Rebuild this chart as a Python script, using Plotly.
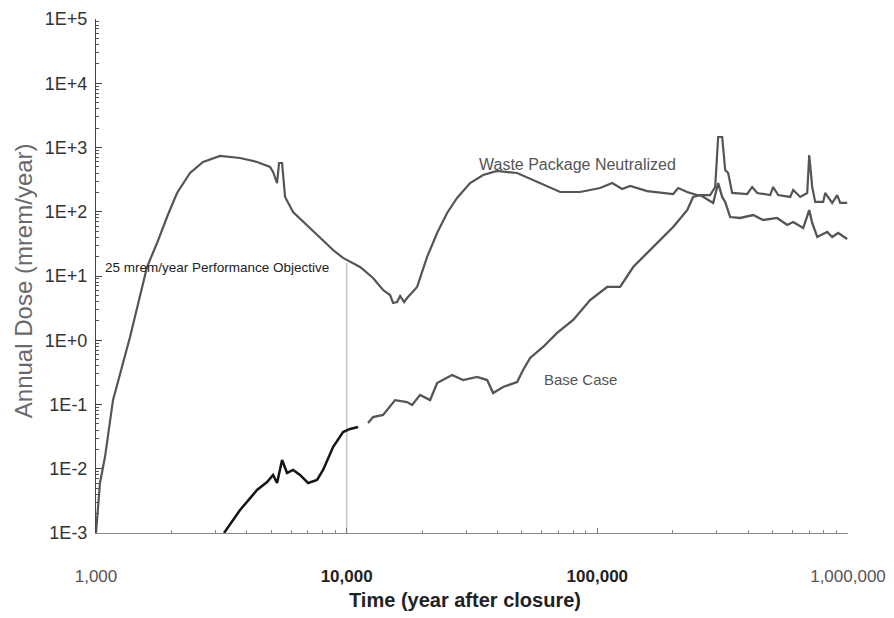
import plotly.graph_objects as go

# ---- data (time in years, dose in mrem/year) ----
wp_time = [1000, 1037, 1086, 1137, 1169, 1367, 1498, 1598, 1752, 1920, 2105, 2372, 2673, 3125,
           3755, 4390, 4948, 5086, 5276, 5374, 5524, 5679, 6112, 6950, 7831, 8826, 9674, 11310,
           12745, 13975, 14900, 15320, 15890, 16340, 16950, 17420, 19100, 20940, 22950, 25160,
           27570, 31080, 35030, 39830, 47860, 59110, 71070, 85390, 102600, 114600, 125600,
           135200, 158000, 200700, 210100, 228200, 250100, 281900, 295200, 303400, 314800,
           323600, 332600, 345100, 396100, 414700, 434300, 489300, 502900, 526600, 588000,
           604400, 644700, 687500, 700300, 719800, 739900, 796200, 811000, 864800, 905700,
           930900, 992700]
wp_dose = [0.001, 0.0060, 0.0152, 0.0515, 0.117, 1.12, 4.71, 13.8, 32.6, 82.8, 196, 401, 595, 738,
           687, 595, 497, 416, 280, 574, 574, 170, 99, 62.2, 39.0, 25.4, 19.1, 13.8,
           9.31, 6.05, 5.06, 3.80, 3.94, 4.89, 3.94, 4.55, 6.75, 19.8, 46.7, 95.7,
           164, 280, 373, 431, 401, 280, 203, 203, 234, 280, 226,
           252, 210, 189, 234, 203, 182, 182, 243, 1456, 1456,
           447, 401, 196, 189, 243, 196, 182, 243, 182, 170,
           218, 170, 196, 764, 243, 142, 142, 196, 137, 182,
           137, 137]

bc_early_time = [3242, 3755, 4390, 4813, 5086, 5276, 5524, 5783, 6112, 6516, 7015, 7618, 8051,
                 8826, 9674, 10320, 11110]
bc_early_dose = [0.001, 0.00228, 0.00467, 0.00622, 0.0080, 0.0060, 0.0137, 0.0086, 0.0096,
                 0.0080, 0.0060, 0.00668, 0.0096, 0.0218, 0.0373, 0.0416, 0.0447]

bc_late_time = [12170, 12745, 13975, 15600, 17420, 18240, 19630, 21520, 22950, 26340, 29140,
                33140, 36340, 38390, 42090, 47860, 50570, 53930, 60760, 69130, 80100, 93610,
                109400, 123300, 139000, 167000, 200700, 228200, 241100, 257200, 289800, 303400,
                314800, 323600, 338800, 371300, 418500, 458700, 521800, 572100, 604400, 662500,
                700300, 719800, 753900, 826000, 864800, 913900, 992700]
bc_late_dose = [0.0515, 0.0638, 0.0687, 0.117, 0.109, 0.0982, 0.141, 0.117, 0.216, 0.288, 0.240,
                0.268, 0.240, 0.151, 0.187, 0.224, 0.344, 0.530, 0.785, 1.30, 2.07, 4.23,
                6.75, 6.75, 13.8, 28.3, 57.9, 106, 170, 182, 137, 280,
                170, 142, 82.8, 80.0, 88.9, 74.4, 80.0, 62.2, 69.2, 55.8,
                106, 66.8, 40.5, 48.4, 40.5, 46.7, 37.7]

reg_time = [10000, 10000]      # 10,000-year regulatory period marker
reg_dose = [16, 0.001]

x_tickvals = [1000, 10000, 100000, 1000000]
x_ticktext = ["<span style='color:#555'>1,000</span>", "<b>10,000</b>", "<b>100,000</b>",
              "<span style='color:#555'>1,000,000</span>"]
y_tickvals = [1e-3, 1e-2, 1e-1, 1e0, 1e1, 1e2, 1e3, 1e4, 1e5]
y_ticktext = ["1E-3", "1E-2", "1E-1", "1E+0", "1E+1", "1E+2", "1E+3", "1E+4", "1E+5"]

FONT = "Liberation Sans, Arial, sans-serif"

fig = go.Figure()
fig.add_trace(go.Scatter(x=reg_time, y=reg_dose, mode="lines",
                         line=dict(color="#c4c4c4", width=1.5), hoverinfo="skip"))
fig.add_trace(go.Scatter(x=wp_time, y=wp_dose, mode="lines", name="Waste Package Neutralized",
                         line=dict(color="#555555", width=2.2)))
fig.add_trace(go.Scatter(x=bc_early_time, y=bc_early_dose, mode="lines", name="Base Case",
                         line=dict(color="#151515", width=2.5)))
fig.add_trace(go.Scatter(x=bc_late_time, y=bc_late_dose, mode="lines", name="Base Case",
                         line=dict(color="#555555", width=2.3)))

# the page body has an 8px margin, so the figure is sized/offset to compensate
fig.update_layout(
    width=886, height=610,
    margin=dict(l=88, r=46, t=11, b=85, autoexpand=False),
    paper_bgcolor="white", plot_bgcolor="white",
    showlegend=False,
    font=dict(family=FONT, color="#333333"),
)
fig.update_xaxes(
    type="log", range=[3, 6], tickvals=x_tickvals, ticktext=x_ticktext, automargin=False,
    showgrid=False, zeroline=False, showline=True, linecolor="#888888", linewidth=1,
    ticks="inside", ticklen=5, tickcolor="#777777",
    minor=dict(ticks="inside", ticklen=3, tickcolor="#888888", dtick="D1", showgrid=False),
    tickfont=dict(size=17, color="#222222", family=FONT), ticklabelstandoff=28,
)
fig.update_yaxes(
    type="log", range=[-3, 5], tickvals=y_tickvals, ticktext=y_ticktext, automargin=False,
    showgrid=False, zeroline=False, showline=True, linecolor="#444444", linewidth=1,
    ticks="inside", ticklen=6, tickcolor="#444444",
    minor=dict(ticks="inside", ticklen=3, tickcolor="#555555", dtick="D1", showgrid=False),
    tickfont=dict(size=18, color="#333333", family=FONT), ticklabelstandoff=4,
)

fig.add_annotation(xref="paper", yref="paper", x=-0.097, y=0.49, textangle=-90,
                   text="Annual Dose (mrem/year)", showarrow=False,
                   xanchor="center", yanchor="middle",
                   font=dict(size=24, color="#6a6a6a", family=FONT))
fig.add_annotation(xref="paper", yref="paper", x=0.491, y=-0.13,
                   text="<b>Time (year after closure)</b>", showarrow=False,
                   xanchor="center", yanchor="middle",
                   font=dict(size=20, color="#222222", family=FONT))
fig.add_annotation(xref="paper", yref="paper", x=0.507, y=0.716,
                   text="Waste Package Neutralized", showarrow=False,
                   xanchor="left", yanchor="middle",
                   font=dict(size=16, color="#555555", family=FONT))
fig.add_annotation(xref="paper", yref="paper", x=0.593, y=0.298,
                   text="Base Case", showarrow=False,
                   xanchor="left", yanchor="middle",
                   font=dict(size=15, color="#555555", family=FONT))
fig.add_annotation(xref="paper", yref="paper", x=0.0093, y=0.516,
                   text="25 mrem/year Performance Objective", showarrow=False,
                   xanchor="left", yanchor="middle",
                   font=dict(size=13.5, color="#222222", family=FONT))

fig.write_html("out.html")
